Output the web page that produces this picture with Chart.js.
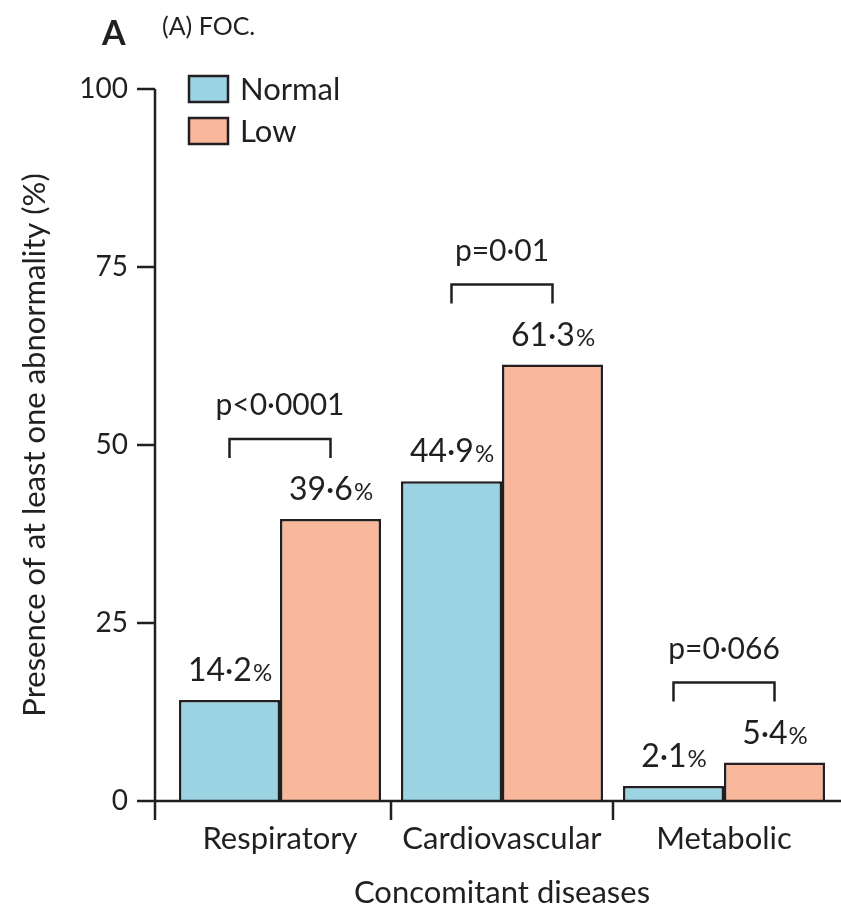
<!DOCTYPE html>
<html>
<head>
<meta charset="utf-8">
<script src="https://cdn.jsdelivr.net/npm/chart.js@4.4.1/dist/chart.umd.min.js"></script>
<style>
  html, body { margin: 0; padding: 0; background: #ffffff; }
  canvas { display: block; }
</style>
</head>
<body>
<canvas id="chart" width="841" height="908"></canvas>
<script>
// Presence of at least one abnormality by FOC group and concomitant disease
const categories = ['Respiratory', 'Cardiovascular', 'Metabolic'];
const seriesNames = ['Normal', 'Low'];
const normalValues = [14.2, 44.9, 2.1];
const lowValues = [39.6, 61.3, 5.4];
const pLabels = ['p<0·0001', 'p=0·01', 'p=0·066'];
const yTickValues = [0, 25, 50, 75, 100];

const INK = '#231f20';
const FONT = 'Lato, "Open Sans", "DejaVu Sans", sans-serif';
const BLUE = '#9bd3e3';
const SALMON = '#f9b79b';

const fmt = v => v.toFixed(1).replace('.', '·');

// Axis lines drawn slightly detached from the plot, as in the journal style
const axesPlugin = {
  id: 'detachedAxes',
  afterDatasetsDraw(chart) {
    const { ctx, chartArea, scales: { x, y } } = chart;
    const axisX = chartArea.left - 14;
    const tickLen = 18;
    const drop = 19;
    ctx.save();
    ctx.strokeStyle = INK;
    ctx.lineWidth = 2.5;
    ctx.lineCap = 'butt';
    ctx.beginPath();
    // vertical axis
    ctx.moveTo(axisX, y.getPixelForValue(100));
    ctx.lineTo(axisX, chartArea.bottom + drop);
    // y tick marks
    yTickValues.forEach(v => {
      const py = y.getPixelForValue(v);
      ctx.moveTo(axisX - tickLen, py);
      ctx.lineTo(axisX, py);
    });
    // horizontal axis
    const base = y.getPixelForValue(0);
    ctx.moveTo(axisX - tickLen, base);
    ctx.lineTo(chart.width, base);
    // category separators
    for (let i = 0; i < categories.length - 1; i++) {
      const bx = (x.getPixelForValue(i) + x.getPixelForValue(i + 1)) / 2;
      ctx.moveTo(bx, base);
      ctx.lineTo(bx, base + drop);
    }
    ctx.stroke();
    ctx.restore();
  }
};

// Value labels above bars, plus significance brackets
const annotationPlugin = {
  id: 'barAnnotations',
  afterDatasetsDraw(chart) {
    const { ctx } = chart;
    ctx.save();
    ctx.fillStyle = INK;
    ctx.textBaseline = 'alphabetic';
    const numFont = '32px ' + FONT;
    const pctFont = '24px ' + FONT;
    const barMetas = chart.data.datasets.map((_, i) => chart.getDatasetMeta(i));

    barMetas.forEach((meta, di) => {
      meta.data.forEach((bar, ci) => {
        const value = chart.data.datasets[di].data[ci];
        const num = fmt(value);
        ctx.font = numFont;
        const wn = ctx.measureText(num).width;
        ctx.font = pctFont;
        const wp = ctx.measureText('%').width;
        const startX = bar.x - (wn + wp) / 2;
        const baseY = bar.y - 19;
        ctx.font = numFont;
        ctx.textAlign = 'left';
        ctx.fillText(num, startX, baseY);
        ctx.font = pctFont;
        ctx.fillText('%', startX + wn + 1, baseY);
      });
    });

    // brackets comparing the two groups within each category
    ctx.strokeStyle = INK;
    ctx.lineWidth = 2.5;
    categories.forEach((_, ci) => {
      const a = barMetas[0].data[ci];
      const b = barMetas[1].data[ci];
      const top = Math.min(a.y, b.y);
      const by = top - 80;
      ctx.beginPath();
      ctx.moveTo(a.x, by + 19);
      ctx.lineTo(a.x, by);
      ctx.lineTo(b.x, by);
      ctx.lineTo(b.x, by + 19);
      ctx.stroke();
      ctx.font = '30px ' + FONT;
      ctx.textAlign = 'center';
      ctx.fillText(pLabels[ci], (a.x + b.x) / 2, by - 24);
    });
    ctx.restore();
  }
};

// Legend boxes in the upper left of the plot
const legendPlugin = {
  id: 'insetLegend',
  afterDraw(chart) {
    const { ctx } = chart;
    ctx.save();
    chart.data.datasets.forEach((ds, i) => {
      const bx = 189, by = 76 + i * 42, bw = 39, bh = 26;
      ctx.fillStyle = ds.backgroundColor;
      ctx.fillRect(bx, by, bw, bh);
      ctx.strokeStyle = INK;
      ctx.lineWidth = 2.5;
      ctx.strokeRect(bx, by, bw, bh);
      ctx.fillStyle = INK;
      ctx.font = '31px ' + FONT;
      ctx.textAlign = 'left';
      ctx.textBaseline = 'middle';
      ctx.fillText(ds.label, 240, by + bh / 2 + 1);
    });
    ctx.restore();
  }
};

// Panel letter and panel caption
const headingPlugin = {
  id: 'panelHeading',
  afterDraw(chart) {
    const { ctx } = chart;
    ctx.save();
    ctx.fillStyle = INK;
    ctx.textAlign = 'left';
    ctx.textBaseline = 'alphabetic';
    ctx.font = 'bold 34px ' + FONT;
    ctx.fillText('A', 102, 45);
    ctx.font = '25px ' + FONT;
    ctx.fillText('(A) FOC.', 162, 35);
    ctx.restore();
  }
};

new Chart(document.getElementById('chart'), {
  type: 'bar',
  data: {
    labels: categories,
    datasets: [
      {
        label: seriesNames[0],
        data: normalValues,
        backgroundColor: BLUE,
        borderColor: INK,
        borderWidth: 2.5,
        borderSkipped: 'start'
      },
      {
        label: seriesNames[1],
        data: lowValues,
        backgroundColor: SALMON,
        borderColor: INK,
        borderWidth: 2.5,
        borderSkipped: 'start'
      }
    ]
  },
  options: {
    responsive: false,
    animation: false,
    events: [],
    layout: { padding: { top: 89, right: 6, left: 0, bottom: 0 } },
    datasets: {
      bar: { categoryPercentage: 0.91, barPercentage: 1.0 }
    },
    plugins: {
      legend: { display: false },
      tooltip: { enabled: false }
    },
    scales: {
      x: {
        offset: true,
        grid: { display: false, drawTicks: false },
        border: { display: false },
        ticks: {
          color: INK,
          font: { family: FONT, size: 31 },
          padding: 19
        },
        title: {
          display: true,
          text: 'Concomitant diseases',
          color: INK,
          font: { family: FONT, size: 31, lineHeight: 1.0 },
          padding: { top: 0, bottom: 0 }
        },
        afterFit(scale) { scale.height = 107; }
      },
      y: {
        min: 0,
        max: 100,
        afterBuildTicks(scale) { scale.ticks = yTickValues.map(v => ({ value: v })); },
        grid: { display: false, drawTicks: false },
        border: { display: false },
        ticks: {
          color: INK,
          font: { family: FONT, size: 28 },
          padding: 41
        },
        title: {
          display: true,
          text: 'Presence of at least one abnormality (%)',
          color: INK,
          font: { family: FONT, size: 31 },
          padding: { top: 16, bottom: 0 }
        },
        afterFit(scale) { scale.width = 169; }
      }
    }
  },
  plugins: [axesPlugin, annotationPlugin, legendPlugin, headingPlugin]
});
</script>
</body>
</html>
